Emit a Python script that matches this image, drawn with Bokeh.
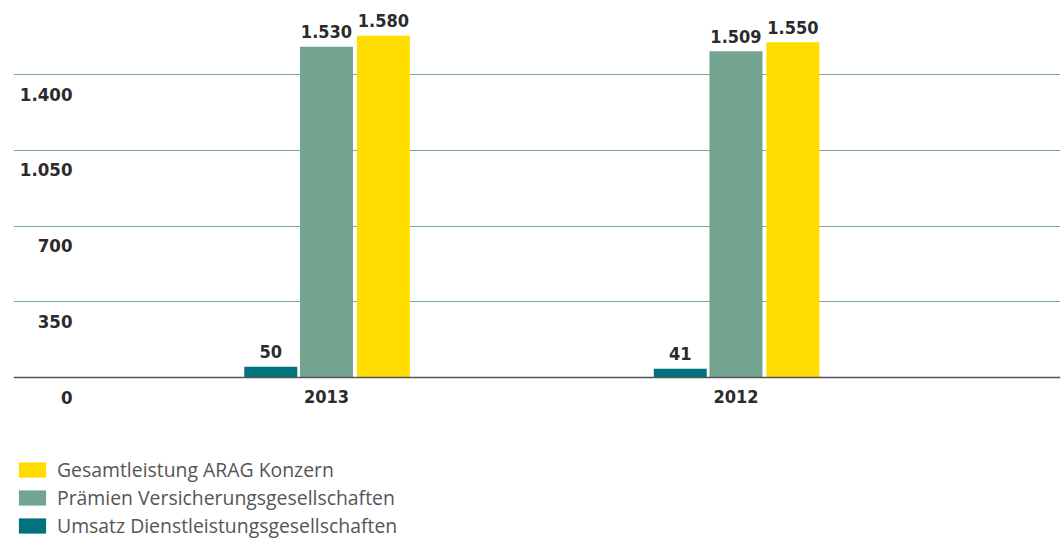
from bokeh.plotting import figure
from bokeh.models import (ColumnDataSource, Range1d, FixedTicker, LabelSet,
                          Legend, LegendItem, Grid, Span)
from bokeh.transform import dodge
from bokeh.core.properties import value
from bokeh.embed import file_html
from bokeh.resources import INLINE

# ---- data ----
years = ["2013", "2012"]
umsatz = [50, 41]            # Umsatz Dienstleistungsgesellschaften
praemien = [1530, 1509]      # Prämien Versicherungsgesellschaften
gesamt = [1580, 1550]        # Gesamtleistung ARAG Konzern
y_ticks = [0, 350, 700, 1050, 1400]

series_names = ["Umsatz Dienstleistungsgesellschaften",
                "Prämien Versicherungsgesellschaften",
                "Gesamtleistung ARAG Konzern"]
colors = ["#00737f", "#72a490", "#ffdd00"]


def de(v):
    return f"{v:,}".replace(",", ".")


xs = list(range(1, len(years) + 1))
y_tick_labels = [de(v) for v in y_ticks]

LABEL_FONT = value("DejaVu Sans Condensed")
TXT = "#2b2b2b"

p = figure(width=1064, height=538, output_backend="svg", toolbar_location=None,
           x_range=Range1d(0.2357, 2.7925), y_range=Range1d(-744.6, 1743.6),
           x_axis_location=None, y_axis_location=None,
           min_border_left=13, min_border_right=4, min_border_top=0,
           min_border_bottom=0)
p.outline_line_color = None
p.background_fill_color = "white"
p.border_fill_color = "white"

# only our own horizontal grid
p.center = [r for r in p.center if not isinstance(r, Grid)]
p.add_layout(Grid(dimension=1, ticker=FixedTicker(ticks=y_ticks[1:]),
                  grid_line_color="#7ba896", grid_line_width=1))

# baseline (value axis zero line)
p.add_layout(Span(location=y_ticks[0], dimension="width",
                  line_color="#555555", line_width=1.5))

offsets = [-0.136, 0.0, 0.139]
bar_w = 0.1294
items = []
for vals, name, col, off in zip([umsatz, praemien, gesamt], series_names, colors, offsets):
    src = ColumnDataSource(dict(x=xs, v=vals, lab=[de(v) for v in vals]))
    r = p.vbar(x=dodge("x", off, range=p.x_range), top="v", bottom=0, width=bar_w,
               source=src, fill_color=col, line_color=None)
    p.add_layout(LabelSet(x=dodge("x", off, range=p.x_range), y="v", text="lab",
                          source=src, text_align="center",
                          text_baseline="alphabetic", y_offset=8.5,
                          text_font=LABEL_FONT, text_font_style="bold",
                          text_font_size="18px", text_color=TXT))
    items.append(LegendItem(label=name, renderers=[r]))

# category labels below the baseline
csrc = ColumnDataSource(dict(x=xs, y=[0] * len(xs), t=years))
p.add_layout(LabelSet(x="x", y="y", text="t", source=csrc,
                      y_offset=-25, text_align="center", text_baseline="alphabetic",
                      text_font=LABEL_FONT, text_font_style="bold",
                      text_font_size="18px", text_color=TXT))

# y tick labels, placed below their grid lines
ysrc = ColumnDataSource(dict(y=y_ticks, t=y_tick_labels, x=[59] * len(y_ticks)))
p.add_layout(LabelSet(x="x", y="y", text="t", source=ysrc, x_units="screen",
                      y_offset=-26, text_align="right", text_baseline="alphabetic",
                      text_font=LABEL_FONT, text_font_style="bold",
                      text_font_size="18.5px", text_color=TXT))

legend = Legend(items=items[::-1], location=(2, -1), orientation="vertical",
                glyph_width=34, glyph_height=19, label_height=19, spacing=1,
                padding=0, margin=0, label_standoff=8, border_line_color=None,
                background_fill_alpha=0,
                label_text_font="Open Sans", label_text_font_size="19.4px",
                label_text_color="#555555")
p.add_layout(legend, "center")

open("out.html", "w").write(file_html(p, INLINE))
